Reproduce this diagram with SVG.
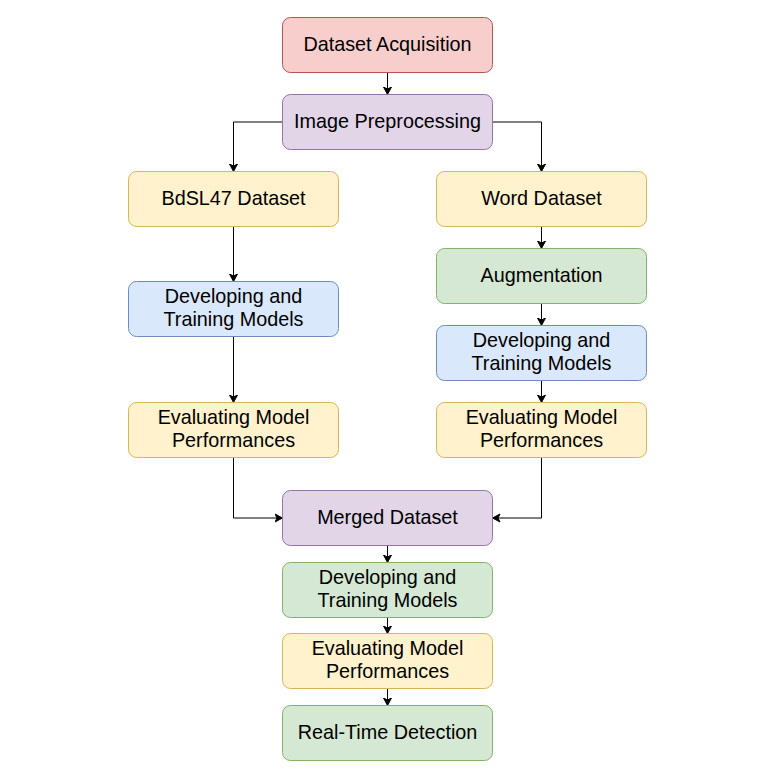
<svg xmlns="http://www.w3.org/2000/svg" width="762" height="779" viewBox="0 0 762 779">
<defs>
<marker id="arr" viewBox="-8 -5 10 10" refX="0" refY="0" markerWidth="10" markerHeight="10" markerUnits="userSpaceOnUse" orient="auto">
<path d="M0,0 L-7.5,-4 L-5.5,0 L-7.5,4 Z" fill="#000" stroke="#000" stroke-width="1"/>
</marker>
<style>
.n rect{stroke-width:1}
.red rect{fill:#f8cecc;stroke:#b85450}
.pur rect{fill:#e1d5e7;stroke:#9673a6}
.yel rect{fill:#fff2cc;stroke:#d6b656}
.grn rect{fill:#d5e8d4;stroke:#82b366}
.blu rect{fill:#dae8fc;stroke:#6c8ebf}
text{font-family:"Liberation Sans",Arial,sans-serif;font-size:19.8px;fill:#000;text-anchor:middle}
.c path{fill:none;stroke:#000;stroke-width:1;marker-end:url(#arr)}
</style>
</defs>
<rect width="762" height="779" fill="#fff"/>
<g id="connectors" class="c">
<path d="M387.5,72.5 V94.5"/>
<path d="M282.5,122 H233.5 V171.5"/>
<path d="M492.5,122 H541.5 V171.5"/>
<path d="M233.5,226.5 V281.5"/>
<path d="M233.5,336.5 V402.5"/>
<path d="M541.5,226.5 V248.5"/>
<path d="M541.5,303.5 V325.5"/>
<path d="M541.5,380.5 V402.5"/>
<path d="M233.5,457.5 V518 H282.5"/>
<path d="M541.5,457.5 V518 H492.5"/>
<path d="M387.5,545.5 V562.5"/>
<path d="M387.5,617.5 V633.5"/>
<path d="M387.5,688.5 V705.5"/>
</g>
<g id="acq" class="n red"><rect x="282.5" y="17.5" width="210" height="55" rx="8"/><text x="387.5" y="50.7">Dataset Acquisition</text></g>
<g id="pre" class="n pur"><rect x="282.5" y="94.5" width="210" height="55" rx="8"/><text x="387.5" y="127.7">Image Preprocessing</text></g>
<g id="bdsl" class="n yel"><rect x="128.5" y="171.5" width="210" height="55" rx="8"/><text x="233.5" y="204.7">BdSL47 Dataset</text></g>
<g id="word" class="n yel"><rect x="436.5" y="171.5" width="210" height="55" rx="8"/><text x="541.5" y="204.7">Word Dataset</text></g>
<g id="aug" class="n grn"><rect x="436.5" y="248.5" width="210" height="55" rx="8"/><text x="541.5" y="281.7">Augmentation</text></g>
<g id="devL" class="n blu"><rect x="128.5" y="281.5" width="210" height="55" rx="8"/><text x="233.5" y="303">Developing and</text><text x="233.5" y="325.7">Training Models</text></g>
<g id="devR" class="n blu"><rect x="436.5" y="325.5" width="210" height="55" rx="8"/><text x="541.5" y="347">Developing and</text><text x="541.5" y="369.7">Training Models</text></g>
<g id="evalL" class="n yel"><rect x="128.5" y="402.5" width="210" height="55" rx="8"/><text x="233.5" y="424">Evaluating Model</text><text x="233.5" y="446.7">Performances</text></g>
<g id="evalR" class="n yel"><rect x="436.5" y="402.5" width="210" height="55" rx="8"/><text x="541.5" y="424">Evaluating Model</text><text x="541.5" y="446.7">Performances</text></g>
<g id="merged" class="n pur"><rect x="282.5" y="490.5" width="210" height="55" rx="8"/><text x="387.5" y="523.7">Merged Dataset</text></g>
<g id="devC" class="n grn"><rect x="282.5" y="562.5" width="210" height="55" rx="8"/><text x="387.5" y="584">Developing and</text><text x="387.5" y="606.7">Training Models</text></g>
<g id="evalC" class="n yel"><rect x="282.5" y="633.5" width="210" height="55" rx="8"/><text x="387.5" y="655">Evaluating Model</text><text x="387.5" y="677.7">Performances</text></g>
<g id="rt" class="n grn"><rect x="282.5" y="705.5" width="210" height="55" rx="8"/><text x="387.5" y="738.7">Real-Time Detection</text></g>
</svg>
